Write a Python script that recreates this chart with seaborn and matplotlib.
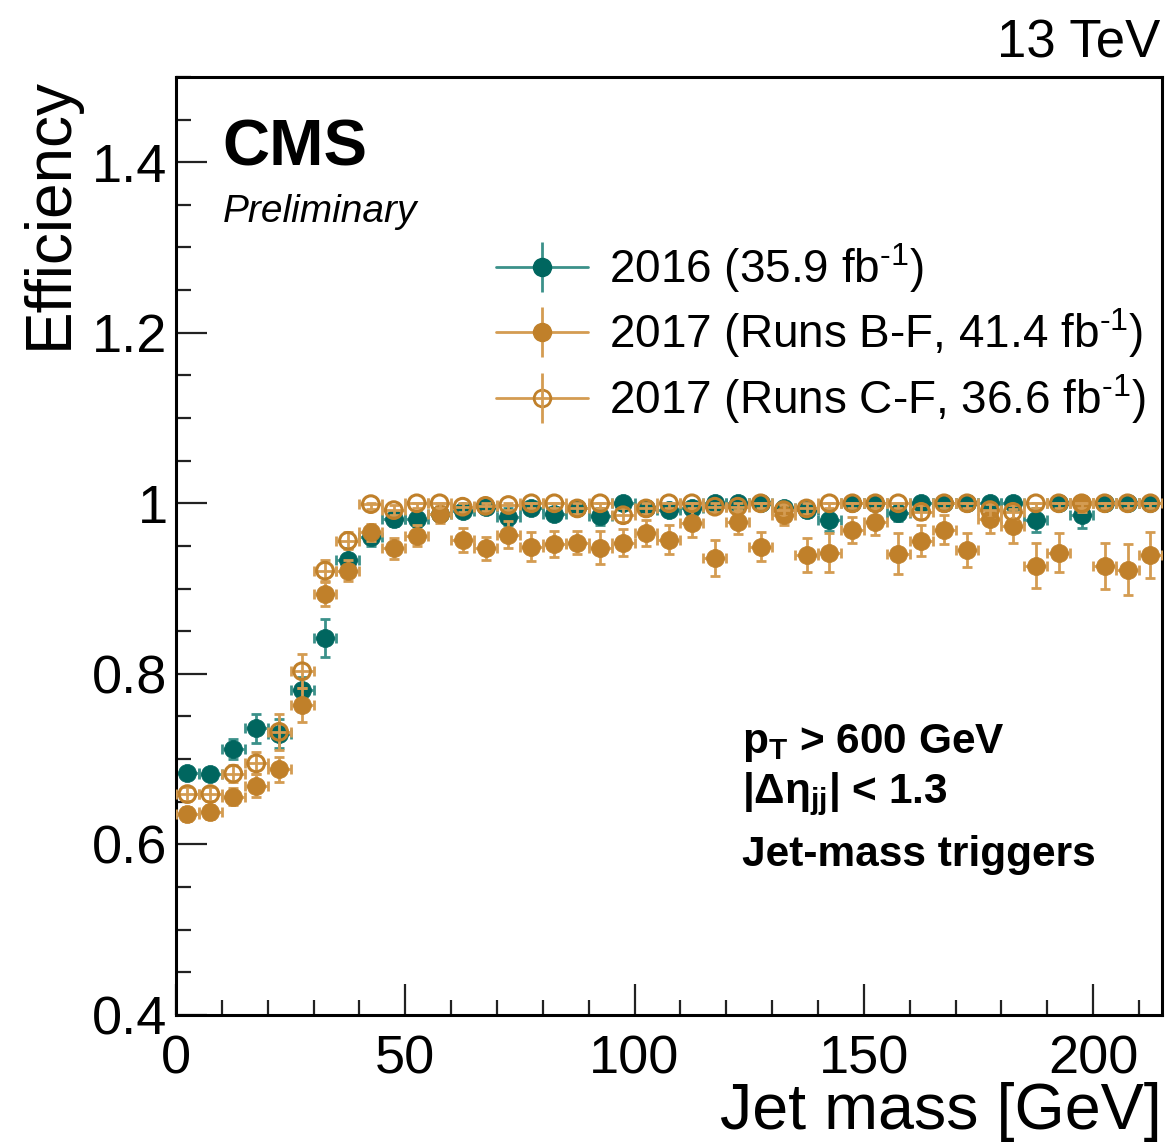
import numpy as np
import pandas as pd
import matplotlib
matplotlib.use("Agg")
import matplotlib.pyplot as plt
import seaborn as sns
from matplotlib.lines import Line2D
from matplotlib.legend_handler import HandlerTuple
from matplotlib.ticker import MultipleLocator

# ---------------- data ----------------
bin_width = 5.0
jet_mass = np.arange(2.5, 215, 5.0)  # bin centres [GeV]

eff_2016 = [0.684, 0.683, 0.712, 0.736, 0.730, 0.781, 0.842, 0.933, 0.960, 0.981,
            0.981, 0.988, 0.991, 0.996, 0.984, 0.994, 0.988, 0.994, 0.985, 1.000,
            0.994, 0.992, 0.994, 1.000, 1.000, 1.000, 0.994, 0.992, 0.980, 1.000,
            1.000, 0.989, 1.000, 1.000, 1.000, 1.000, 1.000, 0.980, 1.000, 0.986,
            1.000, 1.000, 1.000]
err_2016 = [0.006, 0.006, 0.012, 0.017, 0.017, 0.015, 0.022, 0.014, 0.010, 0.008,
            0.008, 0.006, 0.006, 0.006, 0.010, 0.006, 0.006, 0.006, 0.010, 0.006,
            0.006, 0.007, 0.006, 0.006, 0.006, 0.006, 0.007, 0.008, 0.012, 0.006,
            0.006, 0.010, 0.006, 0.006, 0.006, 0.006, 0.006, 0.014, 0.006, 0.015,
            0.006, 0.006, 0.006]

eff_2017_BF = [0.636, 0.638, 0.656, 0.669, 0.688, 0.763, 0.894, 0.921, 0.966, 0.947,
               0.962, 0.987, 0.957, 0.947, 0.963, 0.949, 0.952, 0.954, 0.948, 0.954,
               0.965, 0.957, 0.977, 0.936, 0.978, 0.949, 0.986, 0.939, 0.942, 0.969,
               0.978, 0.941, 0.956, 0.969, 0.945, 0.982, 0.973, 0.927, 0.942, 1.000,
               0.926, 0.922, 0.939]
err_2017_BF = [0.008, 0.008, 0.010, 0.013, 0.015, 0.020, 0.014, 0.012, 0.010, 0.012,
               0.012, 0.010, 0.014, 0.014, 0.016, 0.017, 0.015, 0.014, 0.019, 0.016,
               0.015, 0.017, 0.016, 0.021, 0.014, 0.017, 0.012, 0.020, 0.023, 0.015,
               0.015, 0.024, 0.018, 0.017, 0.020, 0.017, 0.020, 0.026, 0.023, 0.010,
               0.027, 0.030, 0.027]

eff_2017_CF = [0.659, 0.659, 0.683, 0.695, 0.732, 0.803, 0.921, 0.956, 0.999, 0.992,
               1.000, 1.000, 0.996, 0.997, 0.998, 1.000, 1.000, 0.994, 1.000, 0.986,
               0.994, 1.000, 1.000, 0.996, 0.996, 1.000, 0.992, 0.994, 1.000, 1.000,
               1.000, 1.000, 0.990, 1.000, 1.000, 0.992, 0.990, 1.000, 1.000, 1.000,
               1.000, 1.000, 1.000]
err_2017_CF = [0.008, 0.008, 0.010, 0.013, 0.021, 0.020, 0.012, 0.010, 0.006, 0.006,
               0.006, 0.006, 0.006, 0.006, 0.006, 0.006, 0.006, 0.006, 0.006, 0.008,
               0.006, 0.006, 0.006, 0.006, 0.006, 0.006, 0.007, 0.007, 0.006, 0.006,
               0.006, 0.006, 0.008, 0.006, 0.006, 0.008, 0.008, 0.006, 0.006, 0.006,
               0.006, 0.006, 0.006]

labels = [r"2016 (35.9 fb$^{\text{-}1}$)",
          r"2017 (Runs B-F, 41.4 fb$^{\text{-}1}$)",
          r"2017 (Runs C-F, 36.6 fb$^{\text{-}1}$)"]

# ---------------- style ----------------
sns.set_theme(style="ticks")
plt.rcParams["font.family"] = ["Liberation Sans", "DejaVu Sans"]
plt.rcParams["mathtext.fontset"] = "custom"
plt.rcParams["mathtext.rm"] = "Liberation Sans"
plt.rcParams["mathtext.it"] = "Liberation Sans:italic"
plt.rcParams["mathtext.bf"] = "Liberation Sans:bold"
for key in ["text.color", "axes.labelcolor", "xtick.color", "ytick.color",
            "axes.edgecolor"]:
    plt.rcParams[key] = "black"

teal = "#00665F"
teal_err = "#3B918A"
orange = "#C0802A"
orange_err = "#D49C52"

fig = plt.figure(figsize=(11.7, 11.48), dpi=100)
ax = fig.add_axes([0.1504, 0.1159, 0.8427, 0.8171])

series = [
    (eff_2016, err_2016, teal, teal_err, True),
    (eff_2017_BF, err_2017_BF, orange, orange_err, True),
    (eff_2017_CF, err_2017_CF, orange, orange_err, False),
]

ms = 13
for k, (eff, err, col, ecol, filled) in enumerate(series):
    eff = np.asarray(eff)
    err = np.asarray(err)
    up = np.minimum(err, 1.0 - eff)
    ax.errorbar(jet_mass, eff, xerr=bin_width / 2, yerr=[err, up], fmt="none",
                ecolor=ecol, elinewidth=2.0, capsize=3.5, capthick=2.0,
                zorder=2 + 2 * k)
    df = pd.DataFrame({"m": jet_mass, "eff": eff})
    if filled:
        sns.scatterplot(data=df, x="m", y="eff", ax=ax, s=ms ** 2, color=col,
                        edgecolor=col, linewidth=0.5, legend=False, zorder=3 + 2 * k)
    else:
        sns.scatterplot(data=df, x="m", y="eff", ax=ax, s=(ms - 1) ** 2, facecolor="none",
                        edgecolor=col, linewidth=2.2, legend=False, zorder=3 + 2 * k)

ax.set_xlim(0, 215)
ax.set_ylim(0.4, 1.5)
ax.xaxis.set_major_locator(MultipleLocator(50))
ax.xaxis.set_minor_locator(MultipleLocator(10))
ax.yaxis.set_minor_locator(MultipleLocator(0.05))
ax.set_yticks([0.4, 0.6, 0.8, 1.0, 1.2, 1.4])
ax.set_yticklabels(["0.4", "0.6", "0.8", "1", "1.2", "1.4"])

for sp in ax.spines.values():
    sp.set_linewidth(2.2)
    sp.set_color("black")
    sp.set_visible(True)

ax.tick_params(axis="both", which="both", direction="in", top=False, right=False,
               color="#222222", width=1.6)
ax.tick_params(axis="both", which="major", length=22, labelsize=39)
ax.tick_params(axis="both", which="minor", length=11)
ax.tick_params(axis="x", which="major", pad=14)
ax.tick_params(axis="y", which="major", pad=6)

ax.set_xlabel("Jet mass [GeV]", fontsize=46.5, loc="right")
ax.set_ylabel("Efficiency", fontsize=46, loc="top")
ax.xaxis.set_label_coords(1.0, -0.072)
ax.yaxis.set_label_coords(-0.098, 1.0)

# texts
ax.text(0.047, 0.906, "CMS", transform=ax.transAxes, fontsize=47,
        fontweight="bold", ha="left", va="baseline")
ax.text(0.047, 0.845, "Preliminary", transform=ax.transAxes, fontsize=28,
        style="italic", ha="left", va="baseline")
ax.text(0.998, 1.021, "13 TeV", transform=ax.transAxes, fontsize=38,
        ha="right", va="baseline")
ax.text(0.574, 0.279, r"$\mathbf{p_{T}}$ > 600 GeV", transform=ax.transAxes,
        fontsize=30.5, fontweight="bold", ha="left", va="baseline")
ax.text(0.574, 0.226, r"$\mathbf{|\Delta\eta_{jj}|}$ < 1.3", transform=ax.transAxes,
        fontsize=30.5, fontweight="bold", ha="left", va="baseline")
ax.text(0.574, 0.159, "Jet-mass triggers", transform=ax.transAxes,
        fontsize=30.5, fontweight="bold", ha="left", va="baseline")

# legend
def handle(col, ecol, filled):
    hline = Line2D([], [], color=ecol, lw=2.0)
    vline = Line2D([], [], color=ecol, lw=0, marker="|", markersize=36, markeredgewidth=2.0)
    if filled:
        mk = Line2D([], [], color=col, lw=0, marker="o", markersize=ms,
                    markerfacecolor=col, markeredgecolor=col)
        return (hline, vline, mk)
    mk = Line2D([], [], color=col, lw=0, marker="o", markersize=ms - 1,
                markerfacecolor="none", markeredgecolor=col, markeredgewidth=2.0)
    return (hline, mk, vline)

handles = [handle(c, e, f) for (_, _, c, e, f) in series]
leg = ax.legend(handles, labels, loc="upper left", bbox_to_anchor=(0.325, 0.825),
                fontsize=33, frameon=False, handlelength=2.0, handletextpad=0.45,
                labelspacing=0.25, borderpad=0, borderaxespad=0,
                handler_map={tuple: HandlerTuple(ndivide=1, pad=0)})

fig.savefig("out.png", dpi=100)
